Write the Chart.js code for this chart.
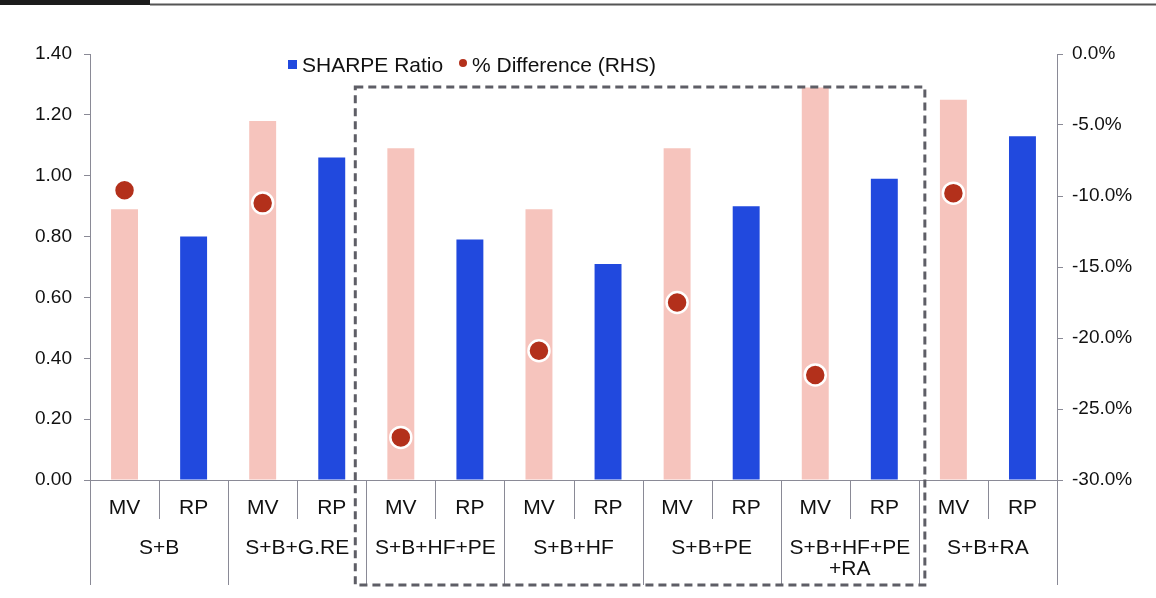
<!DOCTYPE html>
<html>
<head>
<meta charset="utf-8">
<script src="https://cdn.jsdelivr.net/npm/chart.js@4"></script>
<style>
  html, body { margin: 0; padding: 0; background: #fff; }
</style>
</head>
<body>
<canvas id="sharpeChart" width="1156" height="598"></canvas>
<script>
// portfolio groups, each has a MV and a RP bar
const groups = ["S+B", "S+B+G.RE", "S+B+HF+PE", "S+B+HF", "S+B+PE", ["S+B+HF+PE", "+RA"], "S+B+RA"];
const methods = ["MV", "RP"];
const sharpeMV = [0.89, 1.18, 1.09, 0.89, 1.09, 1.29, 1.25];
const sharpeRP = [0.80, 1.06, 0.79, 0.71, 0.90, 0.99, 1.13];
const pctDiff = [-9.6, -10.5, -27.0, -20.9, -17.5, -22.6, -9.8]; // RHS, %
const boxedGroups = [2, 5]; // first and last group inside the dashed box

const pink = "#f6c4bd";
const blue = "#2149de";
const dotRed = "#b3301b";
const axisGrey = "#8a8a96";
const labelFont = "21px 'Liberation Sans', Arial, sans-serif";

const labels = groups.flatMap(() => methods);
const sharpe = groups.flatMap((g, i) => [sharpeMV[i], sharpeRP[i]]);
const diff = groups.flatMap((g, i) => [pctDiff[i], null]);
const barColors = labels.map((m) => (m === "MV" ? pink : blue));

Chart.defaults.font.family = "'Liberation Sans', Arial, sans-serif";
Chart.defaults.font.size = 19;
Chart.defaults.color = "#111";

// header strip, legend, category separators, group names and dashed box
const decorations = {
  id: "decorations",
  afterDraw(chart) {
    const { ctx, chartArea, scales } = chart;
    const x = scales.x;
    const half = (x.getPixelForValue(1) - x.getPixelForValue(0)) / 2;
    const base = chartArea.bottom;
    ctx.save();

    // header
    ctx.fillStyle = "#1c1c1c";
    ctx.fillRect(0, 0, 150, 5);
    ctx.strokeStyle = "#555";
    ctx.lineWidth = 2;
    ctx.beginPath();
    ctx.moveTo(150, 4.5);
    ctx.lineTo(chart.width, 4.5);
    ctx.stroke();

    // separators
    ctx.strokeStyle = axisGrey;
    ctx.lineWidth = 1;
    for (let i = 0; i <= labels.length; i++) {
      const px = Math.round(x.getPixelForValue(i) - half) + 0.5;
      ctx.beginPath();
      ctx.moveTo(px, base);
      ctx.lineTo(px, i % 2 === 0 ? base + 105 : base + 39);
      ctx.stroke();
    }

    // group names
    ctx.fillStyle = "#111";
    ctx.font = labelFont;
    ctx.textAlign = "center";
    ctx.textBaseline = "middle";
    groups.forEach((g, i) => {
      const cx = (x.getPixelForValue(2 * i) + x.getPixelForValue(2 * i + 1)) / 2;
      const lines = Array.isArray(g) ? g : [g];
      lines.forEach((t, k) => ctx.fillText(t, cx, base + 68 + k * 21));
    });

    // dashed box
    const left = x.getPixelForValue(2 * boxedGroups[0]) - half - 11;
    const right = x.getPixelForValue(2 * boxedGroups[1] + 1) + half + 6;
    ctx.strokeStyle = "#5e5e66";
    ctx.lineWidth = 3;
    ctx.setLineDash([8, 5]);
    ctx.strokeRect(left, chartArea.top + 33, right - left, base + 105 - chartArea.top - 33);
    ctx.setLineDash([]);

    // legend
    ctx.textAlign = "left";
    ctx.fillStyle = blue;
    ctx.fillRect(288, 60, 9, 9);
    ctx.fillStyle = "#111";
    ctx.fillText("SHARPE Ratio", 302, 66);
    ctx.fillStyle = dotRed;
    ctx.beginPath();
    ctx.arc(463, 63, 4, 0, Math.PI * 2);
    ctx.fill();
    ctx.fillStyle = "#111";
    ctx.fillText("% Difference (RHS)", 472, 66);
    ctx.restore();
  },
};

new Chart(document.getElementById("sharpeChart"), {
  data: {
    labels: labels,
    datasets: [
      {
        type: "line",
        label: "% Difference (RHS)",
        data: diff,
        yAxisID: "y1",
        showLine: false,
        pointRadius: 10.5,
        pointBackgroundColor: dotRed,
        pointBorderColor: "#fff",
        pointBorderWidth: 2.5,
        order: 0,
      },
      {
        type: "bar",
        label: "SHARPE Ratio",
        data: sharpe,
        yAxisID: "y",
        backgroundColor: barColors,
        barPercentage: 0.39,
        categoryPercentage: 1,
        order: 1,
      },
    ],
  },
  options: {
    responsive: false,
    animation: false,
    layout: { padding: { top: 54, left: 0, right: 0, bottom: 0 } },
    plugins: {
      legend: { display: false },
      tooltip: { enabled: false },
    },
    scales: {
      x: {
        grid: { display: false },
        border: { display: true, color: axisGrey },
        ticks: { padding: 8, font: { size: 21 } },
        afterFit(scale) {
          scale.height = 118;
        },
      },
      y: {
        position: "left",
        min: 0,
        max: 1.4,
        ticks: {
          stepSize: 0.2,
          padding: 12,
          callback: (v) => v.toFixed(2),
        },
        grid: { drawOnChartArea: false, tickLength: 6, color: axisGrey },
        border: { display: true, color: axisGrey },
        afterFit(scale) {
          scale.width = 90;
        },
      },
      y1: {
        position: "right",
        min: -30,
        max: 0,
        ticks: {
          stepSize: 5,
          padding: 9,
          callback: (v) => v.toFixed(1) + "%",
        },
        grid: { drawOnChartArea: false, tickLength: 6, color: axisGrey },
        border: { display: true, color: axisGrey },
        afterFit(scale) {
          scale.width = 99;
        },
      },
    },
  },
  plugins: [decorations],
});
</script>
</body>
</html>
